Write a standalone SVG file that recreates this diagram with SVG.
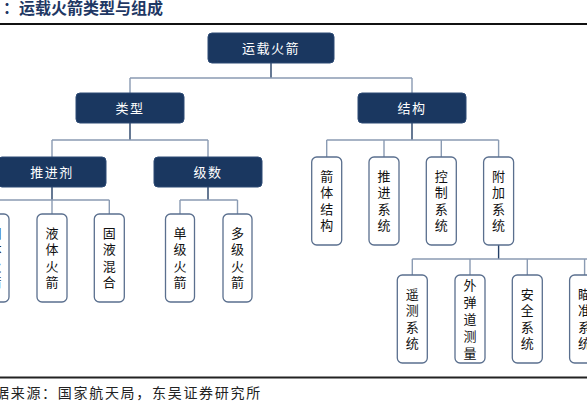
<svg xmlns="http://www.w3.org/2000/svg" width="587" height="414" viewBox="0 0 587 414">
<style>
.dark rect{fill:#1a3760;stroke:#2c4a75;stroke-width:1}
.dark text{fill:#ffffff;font-family:"Noto Sans CJK SC","Noto Sans",sans-serif;font-size:13px;text-anchor:middle;letter-spacing:1.5px}
.leaf rect{fill:#ffffff;stroke:#5a6f8e;stroke-width:1.3}
.leaf text{fill:#111111;font-family:"Noto Sans CJK SC","Noto Sans",sans-serif;font-size:13px;text-anchor:middle}
.trunk{stroke:#243f66;stroke-width:1.4;fill:none}
.branch{stroke:#8a9bb3;stroke-width:1.4;fill:none}
.title{fill:#1f3864;font-family:"Noto Sans CJK SC",sans-serif;font-size:16px;font-weight:bold}
.foot{fill:#222222;font-family:"Noto Sans CJK SC",sans-serif;font-size:14px;letter-spacing:1.7px}
</style>
<rect x="0" y="0" width="587" height="414" fill="#ffffff"/>
<text class="title" x="3" y="14">：运载火箭类型与组成</text>
<line x1="0" y1="24" x2="587" y2="24" stroke="#111" stroke-width="2"/>
<line x1="0" y1="377.5" x2="587" y2="377.5" stroke="#222" stroke-width="2"/>
<text class="foot" x="-5" y="398">据来源：国家航天局，东吴证券研究所</text>

<g id="connectors">
<path class="trunk" d="M271,63 V78"/>
<path class="branch" d="M130,78 H412 M130,78 V93 M412,78 V93"/>
<path class="trunk" d="M130,123 V140"/>
<path class="branch" d="M52,140 H208 M52,140 V157 M208,140 V157"/>
<path class="trunk" d="M52,187 V200"/>
<path class="branch" d="M-6,200 H109.3 M-6,200 V214 M52,200 V214 M109.3,200 V214"/>
<path class="trunk" d="M208,187 V200"/>
<path class="branch" d="M180,200 H237.5 M180,200 V214 M237.5,200 V214"/>
<path class="trunk" d="M412,123 V140"/>
<path class="branch" d="M326.7,140 H498.6 M326.7,140 V157 M384,140 V157 M441.3,140 V157 M498.6,140 V157"/>
<path class="trunk" d="M498.6,245 V259"/>
<path class="branch" d="M412.3,259 H592 M412.3,259 V275 M470,259 V275 M527.3,259 V275 M584.6,259 V275"/>
</g>

<g id="n-root" class="dark"><rect x="208" y="33" width="126" height="30" rx="4"/><text x="271" y="52.5">运载火箭</text></g>
<g id="n-leixing" class="dark"><rect x="76" y="93" width="108" height="30" rx="4"/><text x="130" y="112.5">类型</text></g>
<g id="n-jiegou" class="dark"><rect x="358" y="93" width="108" height="30" rx="4"/><text x="412" y="112.5">结构</text></g>
<g id="n-tuijinji" class="dark"><rect x="-2" y="157" width="108" height="30" rx="4"/><text x="52" y="176.5">推进剂</text></g>
<g id="n-jishu" class="dark"><rect x="154" y="157" width="108" height="30" rx="4"/><text x="208" y="176.5">级数</text></g>

<g id="n-guti" class="leaf"><rect x="-21" y="214" width="30" height="88" rx="5"/><text><tspan x="-5" y="237.75">固</tspan><tspan x="-5" dy="16.5">体</tspan><tspan x="-5" dy="16.5">火</tspan><tspan x="-5" dy="16.5">箭</tspan></text></g>
<g id="n-yeti" class="leaf"><rect x="37" y="214" width="30" height="88" rx="5"/><text><tspan x="52" y="237.75">液</tspan><tspan x="52" dy="16.5">体</tspan><tspan x="52" dy="16.5">火</tspan><tspan x="52" dy="16.5">箭</tspan></text></g>
<g id="n-guye" class="leaf"><rect x="94.3" y="214" width="30" height="88" rx="5"/><text><tspan x="109.3" y="237.75">固</tspan><tspan x="109.3" dy="16.5">液</tspan><tspan x="109.3" dy="16.5">混</tspan><tspan x="109.3" dy="16.5">合</tspan></text></g>
<g id="n-danji" class="leaf"><rect x="165.5" y="214" width="29" height="88" rx="5"/><text><tspan x="180" y="237.75">单</tspan><tspan x="180" dy="16.5">级</tspan><tspan x="180" dy="16.5">火</tspan><tspan x="180" dy="16.5">箭</tspan></text></g>
<g id="n-duoji" class="leaf"><rect x="223" y="214" width="29" height="88" rx="5"/><text><tspan x="237.5" y="237.75">多</tspan><tspan x="237.5" dy="16.5">级</tspan><tspan x="237.5" dy="16.5">火</tspan><tspan x="237.5" dy="16.5">箭</tspan></text></g>

<g id="n-jianti" class="leaf"><rect x="311.7" y="157" width="30" height="88" rx="5"/><text><tspan x="326.7" y="180.75">箭</tspan><tspan x="326.7" dy="16.5">体</tspan><tspan x="326.7" dy="16.5">结</tspan><tspan x="326.7" dy="16.5">构</tspan></text></g>
<g id="n-tuijin" class="leaf"><rect x="369" y="157" width="30" height="88" rx="5"/><text><tspan x="384" y="180.75">推</tspan><tspan x="384" dy="16.5">进</tspan><tspan x="384" dy="16.5">系</tspan><tspan x="384" dy="16.5">统</tspan></text></g>
<g id="n-kongzhi" class="leaf"><rect x="426.3" y="157" width="30" height="88" rx="5"/><text><tspan x="441.3" y="180.75">控</tspan><tspan x="441.3" dy="16.5">制</tspan><tspan x="441.3" dy="16.5">系</tspan><tspan x="441.3" dy="16.5">统</tspan></text></g>
<g id="n-fujia" class="leaf"><rect x="483.6" y="157" width="30" height="88" rx="5"/><text><tspan x="498.6" y="180.75">附</tspan><tspan x="498.6" dy="16.5">加</tspan><tspan x="498.6" dy="16.5">系</tspan><tspan x="498.6" dy="16.5">统</tspan></text></g>

<g id="n-yaoce" class="leaf"><rect x="397.3" y="275" width="30" height="88" rx="5"/><text><tspan x="412.3" y="298.75">遥</tspan><tspan x="412.3" dy="16.5">测</tspan><tspan x="412.3" dy="16.5">系</tspan><tspan x="412.3" dy="16.5">统</tspan></text></g>
<g id="n-waidandao" class="leaf"><rect x="455" y="275" width="30" height="88" rx="5"/><text><tspan x="470" y="289.5">外</tspan><tspan x="470" dy="17">弹</tspan><tspan x="470" dy="17">道</tspan><tspan x="470" dy="17">测</tspan><tspan x="470" dy="17">量</tspan></text></g>
<g id="n-anquan" class="leaf"><rect x="512.3" y="275" width="30" height="88" rx="5"/><text><tspan x="527.3" y="298.75">安</tspan><tspan x="527.3" dy="16.5">全</tspan><tspan x="527.3" dy="16.5">系</tspan><tspan x="527.3" dy="16.5">统</tspan></text></g>
<g id="n-miaozhun" class="leaf"><rect x="569.6" y="275" width="30" height="88" rx="5"/><text><tspan x="584.6" y="298.75">瞄</tspan><tspan x="584.6" dy="16.5">准</tspan><tspan x="584.6" dy="16.5">系</tspan><tspan x="584.6" dy="16.5">统</tspan></text></g>
</svg>
